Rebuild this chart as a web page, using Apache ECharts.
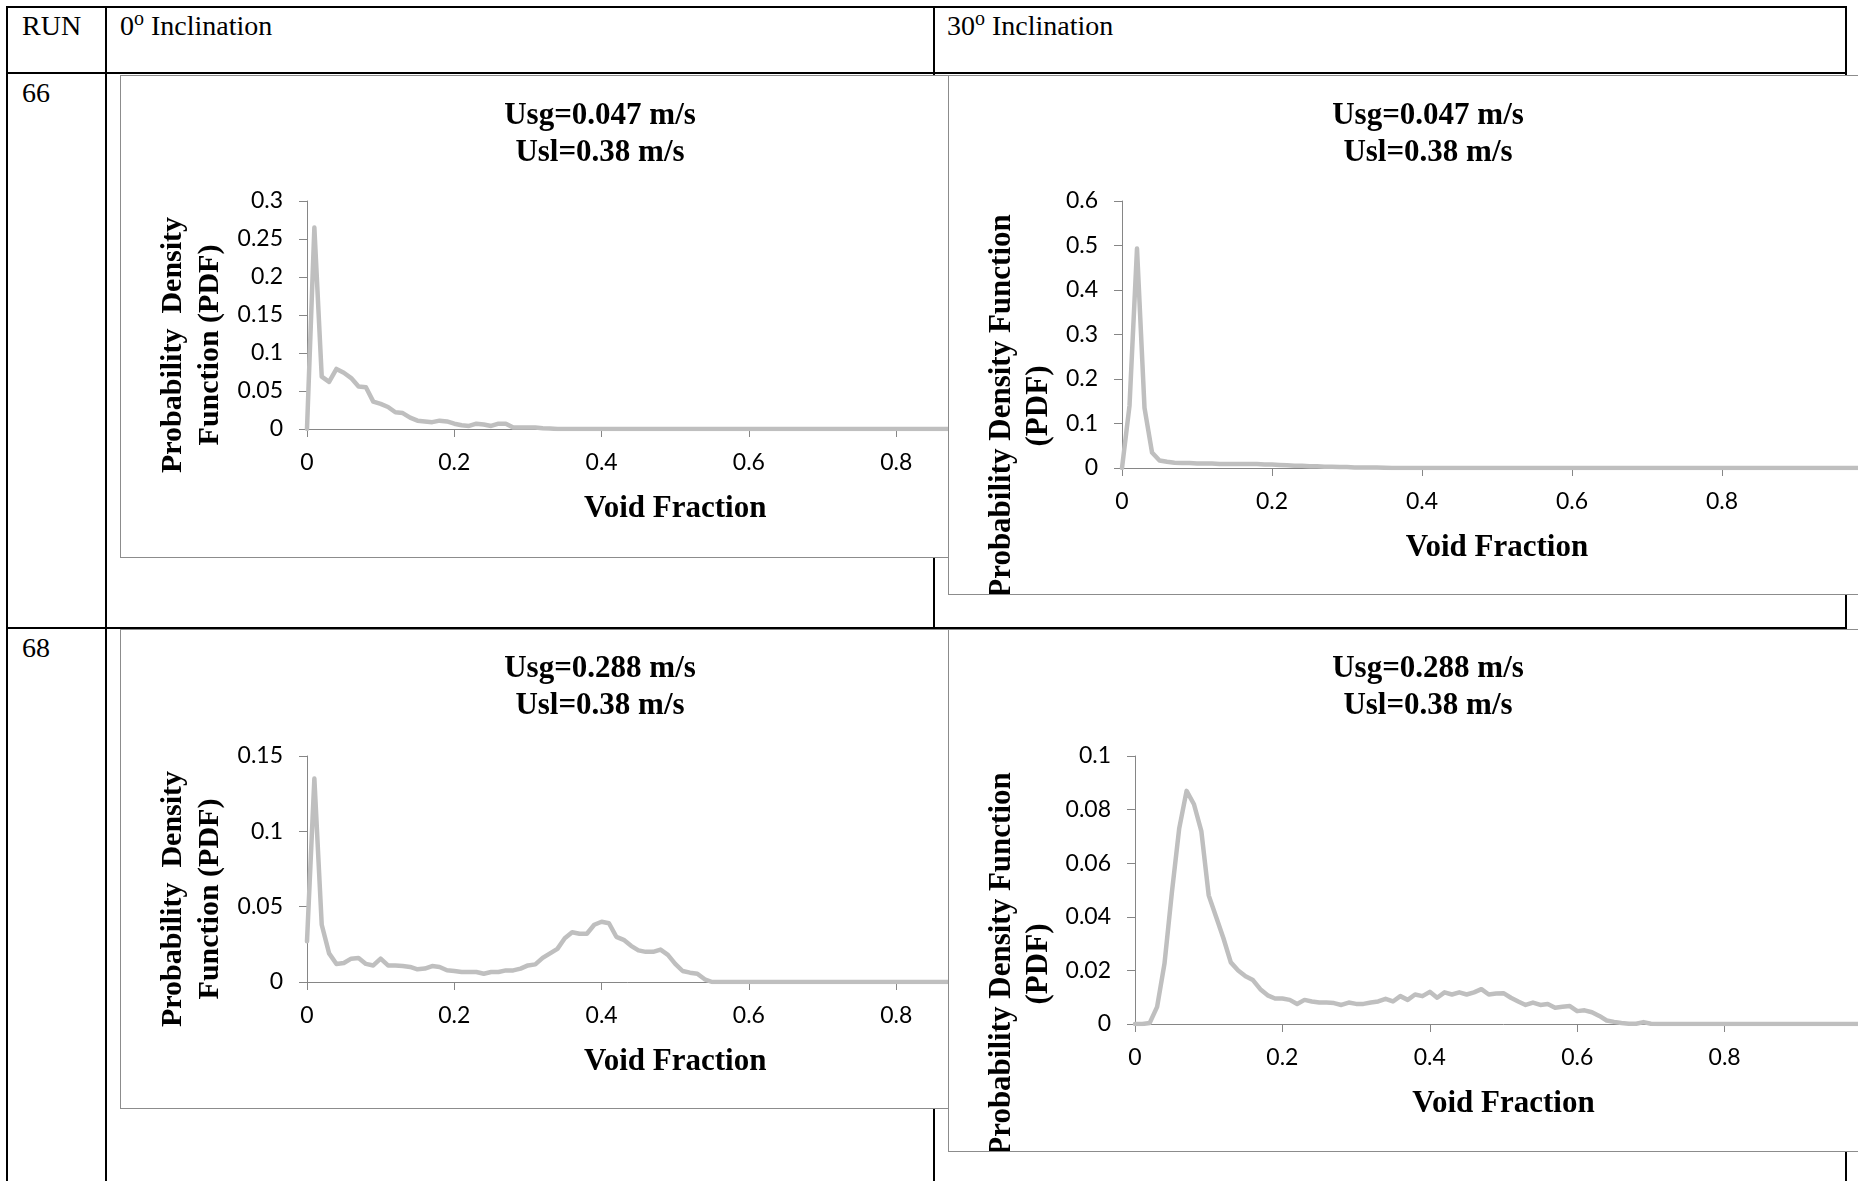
<!DOCTYPE html>
<html>
<head>
<meta charset="utf-8">
<title>Void fraction PDF</title>
<script src="https://cdn.jsdelivr.net/npm/echarts@6/dist/echarts.min.js"></script>
<style>
html, body { margin: 0; padding: 0; width: 1858px; height: 1181px; overflow: hidden; background: #fff; }
.rule { position: absolute; background: #000; }
.cell { position: absolute; font-family: "Liberation Serif", serif; font-size: 28px; line-height: 28px; color: #000; white-space: nowrap; }
.cell .deg { font-size: 20px; position: relative; top: -10px; }
.chart { position: absolute; box-sizing: border-box; border: 1px solid #8c8c8c; background: #fff; overflow: hidden; }
</style>
</head>
<body>
<!-- table rules -->
<div class="rule" style="left:6px;top:6px;width:1841px;height:2px"></div>
<div class="rule" style="left:6px;top:72px;width:1841px;height:2px"></div>
<div class="rule" style="left:6px;top:627px;width:1841px;height:2px"></div>
<div class="rule" style="left:6px;top:6px;width:2px;height:1175px"></div>
<div class="rule" style="left:105px;top:6px;width:2px;height:1175px"></div>
<div class="rule" style="left:933px;top:6px;width:2px;height:1175px"></div>
<div class="rule" style="left:1845px;top:6px;width:2px;height:1175px"></div>

<div class="cell" style="left:22px;top:12px">RUN</div>
<div class="cell" style="left:120px;top:12px">0<span class="deg">o</span> Inclination</div>
<div class="cell" style="left:947px;top:12px">30<span class="deg">o</span> Inclination</div>
<div class="cell" style="left:22px;top:79px">66</div>
<div class="cell" style="left:22px;top:634px">68</div>

<div id="run66Flat" class="chart" style="left:120px;top:75px;width:829px;height:483px"></div>
<div id="run66Tilt" class="chart" style="left:948px;top:75px;width:960px;height:520px"></div>
<div id="run68Flat" class="chart" style="left:120px;top:629px;width:829px;height:480px"></div>
<div id="run68Tilt" class="chart" style="left:948px;top:629px;width:960px;height:523px"></div>

<script>
// PDF values per 0.01 void-fraction bin, x = 0 ... 1
const binStep = 0.01
const xMax = 1
const xStep = 0.2

const pdf66Flat = [
    0, 0.265, 0.069, 0.062, 0.079, 0.074, 0.067, 0.056, 0.055, 0.036,
    0.033, 0.029, 0.022, 0.021, 0.015, 0.011, 0.010, 0.009, 0.011, 0.010,
    0.007, 0.005, 0.004, 0.007, 0.006, 0.004, 0.007, 0.007, 0.002, 0.002,
    0.002, 0.002, 0.001, 0.0005, 0, 0, 0, 0, 0, 0,
    0, 0, 0, 0, 0, 0, 0, 0, 0, 0,
    0, 0, 0, 0, 0, 0, 0, 0, 0, 0,
    0, 0, 0, 0, 0, 0, 0, 0, 0, 0,
    0, 0, 0, 0, 0, 0, 0, 0, 0, 0,
    0, 0, 0, 0, 0, 0, 0, 0, 0, 0,
    0, 0, 0, 0, 0, 0, 0, 0, 0, 0,
    0
]
const pdf66Tilt = [
    0, 0.14, 0.493, 0.135, 0.035, 0.017, 0.014, 0.012, 0.011, 0.011,
    0.010, 0.010, 0.010, 0.009, 0.009, 0.009, 0.009, 0.009, 0.009, 0.008,
    0.008, 0.007, 0.006, 0.005, 0.005, 0.004, 0.004, 0.003, 0.003, 0.002,
    0.002, 0.001, 0.001, 0.001, 0.001, 0.0005, 0, 0, 0, 0,
    0, 0, 0, 0, 0, 0, 0, 0, 0, 0,
    0, 0, 0, 0, 0, 0, 0, 0, 0, 0,
    0, 0, 0, 0, 0, 0, 0, 0, 0, 0,
    0, 0, 0, 0, 0, 0, 0, 0, 0, 0,
    0, 0, 0, 0, 0, 0, 0, 0, 0, 0,
    0, 0, 0, 0, 0, 0, 0, 0, 0, 0,
    0
]
const pdf68Flat = [
    0.027, 0.135, 0.038, 0.019, 0.012, 0.0126, 0.0155, 0.016, 0.012, 0.011,
    0.0155, 0.011, 0.011, 0.0106, 0.010, 0.0084, 0.0089, 0.0106, 0.010, 0.0078,
    0.0073, 0.0066, 0.0066, 0.0066, 0.0055, 0.0066, 0.0066, 0.0077, 0.0077, 0.0089,
    0.011, 0.0117, 0.016, 0.019, 0.022, 0.029, 0.033, 0.032, 0.032, 0.038,
    0.040, 0.039, 0.030, 0.028, 0.024, 0.021, 0.020, 0.020, 0.0215, 0.018,
    0.012, 0.0073, 0.0062, 0.0055, 0.0018, 0, 0, 0, 0, 0,
    0, 0, 0, 0, 0, 0, 0, 0, 0, 0,
    0, 0, 0, 0, 0, 0, 0, 0, 0, 0,
    0, 0, 0, 0, 0, 0, 0, 0, 0, 0,
    0, 0, 0, 0, 0, 0, 0, 0, 0, 0,
    0
]
const pdf68Tilt = [
    0, 0, 0.0004, 0.0064, 0.0225, 0.049, 0.073, 0.087, 0.082, 0.072,
    0.048, 0.040, 0.032, 0.023, 0.020, 0.0178, 0.0164, 0.013, 0.0107, 0.0095,
    0.0095, 0.009, 0.0075, 0.009, 0.0084, 0.008, 0.008, 0.0078, 0.0071, 0.008,
    0.0075, 0.0075, 0.008, 0.0084, 0.0094, 0.0084, 0.0104, 0.009, 0.011, 0.0104,
    0.012, 0.0098, 0.0118, 0.011, 0.0118, 0.011, 0.0118, 0.013, 0.011, 0.0114,
    0.0115, 0.0098, 0.0084, 0.0071, 0.008, 0.0071, 0.0075, 0.0061, 0.0064, 0.0067,
    0.0048, 0.0051, 0.0044, 0.003, 0.0013, 0.0008, 0.0004, 0.0001, 0.0001, 0.0007,
    0.0001, 0, 0, 0, 0, 0, 0, 0, 0, 0,
    0, 0, 0, 0, 0, 0, 0, 0, 0, 0,
    0, 0, 0, 0, 0, 0, 0, 0, 0, 0,
    0
]

const yMaxs = [0.3, 0.6, 0.15, 0.1]
const ySteps = [0.05, 0.1, 0.05, 0.02]
const titles = [
    'Usg=0.047 m/s\nUsl=0.38 m/s',
    'Usg=0.047 m/s\nUsl=0.38 m/s',
    'Usg=0.288 m/s\nUsl=0.38 m/s',
    'Usg=0.288 m/s\nUsl=0.38 m/s'
]
const yNames = [
    'Probability  Density\nFunction (PDF)',
    'Probability Density Function\n(PDF)',
    'Probability  Density\nFunction (PDF)',
    'Probability Density Function\n(PDF)'
]
const xName = 'Void Fraction'

// layout of each chart inside its frame (px)
const layouts = [
    { grid: { left: 186, top: 125, width: 736.5, height: 228 }, title: [479, 58.5], yName: [71, 269], yFont: 30 },
    { grid: { left: 173, top: 125, width: 750, height: 267 }, title: [479, 58], yName: [71, 330], yFont: 31 },
    { grid: { left: 186, top: 126, width: 736.5, height: 226 }, title: [479, 57.5], yName: [71, 269], yFont: 30 },
    { grid: { left: 186, top: 126, width: 737, height: 268 }, title: [479, 57.5], yName: [71, 334], yFont: 31 }
]

const lineGray = '#bfbfbf'
const axisGray = '#868686'
const serif = '"Liberation Serif", "Times New Roman", serif'
const tickFont = 'Lato, "Open Sans", sans-serif'

function drawPdf (domId, values, k) {
    let chart = echarts.init(document.getElementById(domId), null, { renderer: 'canvas' })
    let lay = layouts[k]
    let points = values.map((v, i) => [i * binStep, v])
    let option = {
        animation: false,
        grid: Object.assign({ outerBoundsMode: 'none', containLabel: false }, lay.grid),
        xAxis: {
            type: 'value',
            min: 0,
            max: xMax,
            interval: xStep,
            axisLine: { lineStyle: { color: axisGray, width: 1 } },
            axisTick: { show: true, length: 8, lineStyle: { color: axisGray } },
            axisLabel: { color: '#000', fontFamily: tickFont, fontSize: 23, margin: 22 },
            splitLine: { show: false },
            name: xName,
            nameLocation: 'middle',
            nameGap: 64,
            nameTextStyle: { color: '#000', fontFamily: serif, fontWeight: 'bold', fontSize: 31 }
        },
        yAxis: {
            type: 'value',
            min: 0,
            max: yMaxs[k],
            interval: ySteps[k],
            axisLine: { show: true, lineStyle: { color: axisGray, width: 1 } },
            axisTick: { show: true, length: 8, lineStyle: { color: axisGray } },
            axisLabel: { color: '#000', fontFamily: tickFont, fontSize: 23, margin: 24 },
            splitLine: { show: false }
        },
        series: [
            {
                type: 'line',
                data: points,
                symbol: 'none',
                lineStyle: { color: lineGray, width: 4.5, cap: 'round', join: 'round' }
            }
        ],
        graphic: [
            {
                type: 'text',
                x: lay.title[0],
                y: lay.title[1],
                style: {
                    text: titles[k],
                    font: 'bold 31px ' + serif,
                    fill: '#000',
                    textAlign: 'center',
                    textVerticalAlign: 'middle',
                    lineHeight: 37
                }
            },
            {
                type: 'text',
                x: lay.yName[0],
                y: lay.yName[1],
                rotation: Math.PI / 2,
                style: {
                    text: yNames[k],
                    font: 'bold ' + lay.yFont + 'px ' + serif,
                    fill: '#000',
                    textAlign: 'center',
                    textVerticalAlign: 'middle',
                    lineHeight: 37
                }
            }
        ]
    }
    chart.setOption(option)
}

drawPdf('run66Flat', pdf66Flat, 0)
drawPdf('run66Tilt', pdf66Tilt, 1)
drawPdf('run68Flat', pdf68Flat, 2)
drawPdf('run68Tilt', pdf68Tilt, 3)
</script>
</body>
</html>
